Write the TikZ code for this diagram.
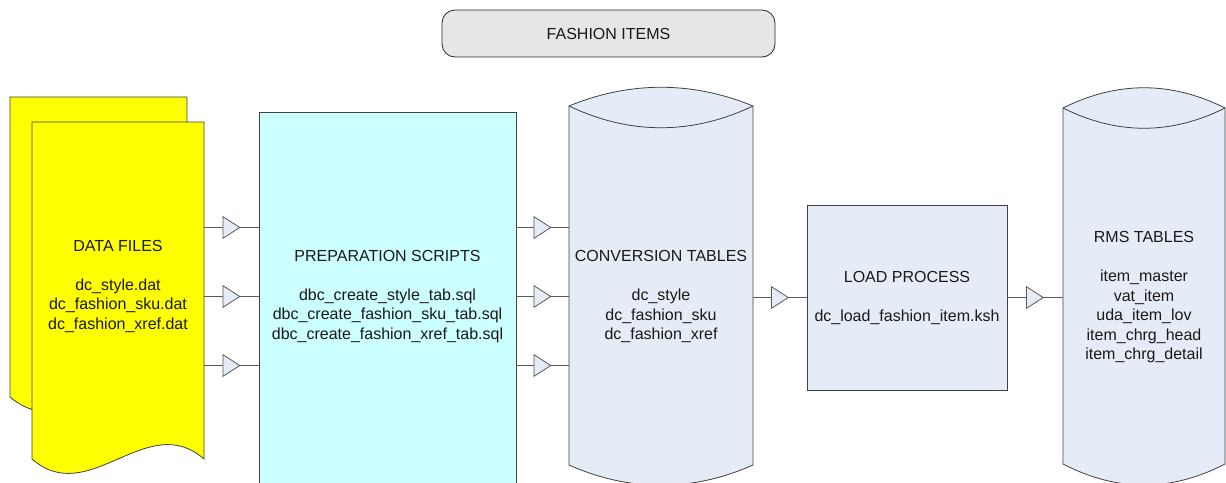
\documentclass[tikz,border=0pt]{standalone}
\usepackage{fontspec}
\setmainfont{Liberation Sans}
\usetikzlibrary{arrows.meta,decorations.markings}
\definecolor{docyellow}{HTML}{FFFF00}
\definecolor{prepcyan}{HTML}{CCFFFF}
\definecolor{tblue}{HTML}{E6ECF7}
\definecolor{titlegray}{HTML}{E6E6E6}
\definecolor{edgegray}{HTML}{404040}
\definecolor{linegray}{HTML}{595959}
\tikzset{
    %Define standard shape look
    shapeline/.style={
      draw=edgegray, line width=0.8pt},
    txt/.style={
      align=center,
      inner sep=0pt, outer sep=0pt,
      text=black!90,
      font=\fontsize{16}{19.5}\selectfont},
    titlebox/.style={
      txt,
      rectangle,
      rounded corners=13pt,
      draw=black!85, line width=0.8pt,
      fill=titlegray,
      minimum width=333pt,
      minimum height=47pt},
    procbox/.style={
      txt,
      rectangle,
      draw=edgegray, line width=0.8pt,
      fill=tblue},
    flow/.style={
      draw=linegray, line width=0.8pt,
      postaction={decorate},
      decoration={markings,
        mark=at position 0.5 with
          {\arrow[xshift=9pt]{Triangle[length=18pt,width=23pt,fill=tblue]}}}}
}
\begin{document}
\begin{tikzpicture}[x=1pt,y=-1pt]
    \useasboundingbox (0,0) rectangle (1226,482);
    \clip (0,0) rectangle (1226,482);
    % data files (two pages)
    \filldraw[shapeline, fill=docyellow] (10,97) -- (187,97) -- (187,397)
      .. controls (129,347) and (68,447) .. (10,397) -- cycle;
    \filldraw[shapeline, fill=docyellow] (32,122) -- (204,122) -- (204,459)
      .. controls (147,409) and (89,509) .. (32,459) -- cycle;
    % scripts
    \filldraw[shapeline, fill=prepcyan] (259,112) rectangle (516,495);
    % conversion tables
    \filldraw[shapeline, fill=tblue] (569,106) -- (569,465)
      .. controls (630,492) and (692,492) .. (753,465) -- (753,106)
      .. controls (692,81) and (630,81) .. (569,106) -- cycle;
    \draw[shapeline] (569,106) .. controls (630,135) and (692,135) .. (753,106);
    % rms tables
    \filldraw[shapeline, fill=tblue] (1063,108) -- (1063,464)
      .. controls (1117,492) and (1171,492) .. (1225,464) -- (1225,108)
      .. controls (1171,81) and (1117,81) .. (1063,108) -- cycle;
    \draw[shapeline] (1063,108) .. controls (1117,135) and (1171,135) .. (1225,108);

    \node (title) [titlebox] at (608.5,33.5)
          {FASHION ITEMS};
    \node (data) [txt, minimum width=172pt] at (118,286)
          {DATA FILES\\[19.5pt] dc\_style.dat\\ dc\_fashion\_sku.dat\\ dc\_fashion\_xref.dat};
    \node (prep) [txt, minimum width=257pt] at (387.5,296.5)
          {PREPARATION SCRIPTS\\[19.5pt] dbc\_create\_style\_tab.sql\\
           dbc\_create\_fashion\_sku\_tab.sql\\ dbc\_create\_fashion\_xref\_tab.sql};
    \node (conv) [txt, minimum width=184pt] at (661,296.5)
          {CONVERSION TABLES\\[19.5pt] dc\_style\\ dc\_fashion\_sku\\ dc\_fashion\_xref};
    \node (load) [procbox, minimum width=200pt, minimum height=185pt] at (907,297.5)
          {LOAD PROCESS\\[19.5pt] dc\_load\_fashion\_item.ksh};
    \node (rms) [txt, minimum width=162pt] at (1144,297.5)
          {RMS TABLES\\[19.5pt] item\_master\\ vat\_item\\ uda\_item\_lov\\
           item\_chrg\_head\\ item\_chrg\_detail};

    \foreach \dy in {69,0,-69}{
      \draw[flow] ([yshift=\dy pt]prep.west -| data.east) -- ([yshift=\dy pt]prep.west);
      \draw[flow] ([yshift=\dy pt]prep.east) -- ([yshift=\dy pt]prep.east -| conv.west);
    }
    \draw[flow] (load.west -| conv.east) -- (load.west);
    \draw[flow] (load.east) -- (load.east -| rms.west);
\end{tikzpicture}
\end{document}
